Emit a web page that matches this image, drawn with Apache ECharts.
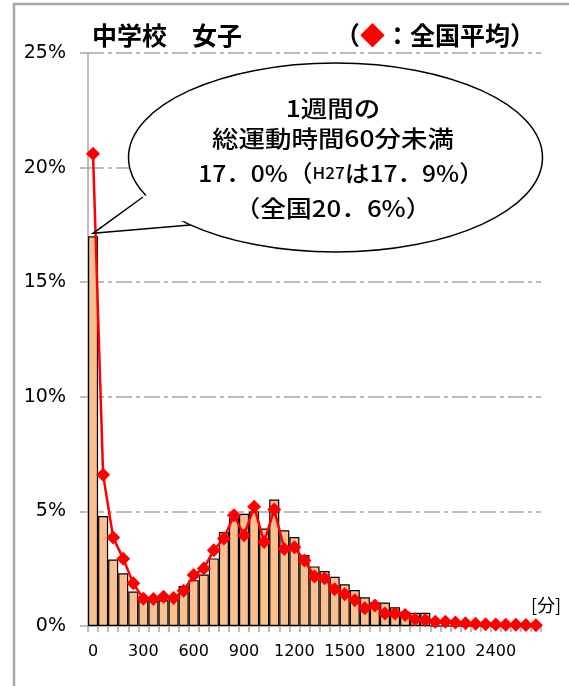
<!DOCTYPE html>
<html><head><meta charset="utf-8">
<script src="https://cdn.jsdelivr.net/npm/echarts@6/dist/echarts.min.js"></script>
<style>html,body{margin:0;padding:0;background:#fff}#c{width:569px;height:686px}</style>
</head><body><div id="c"></div>
<script>
// 1週間の総運動時間（分）: 60分刻みの階級
const categories = [0,60,120,180,240,300,360,420,480,540,600,660,720,780,840,900,960,1020,1080,1140,1200,1260,1320,1380,1440,1500,1560,1620,1680,1740,1800,1860,1920,1980,2040,2100,2160,2220,2280,2340,2400,2460,2520,2580,2640];
// 中学校 女子（本県）割合 %
const schoolShare = [17.0,4.8,2.9,2.3,1.5,1.15,1.1,1.12,1.18,1.75,2.0,2.25,2.95,4.1,4.7,4.9,5.0,4.25,5.52,4.18,3.88,3.1,2.6,2.4,2.15,1.82,1.57,1.25,1.03,1.02,0.82,0.62,0.58,0.58,0,0,0,0,0,0,0,0,0,0,0];
// 全国平均 %
const nationalShare = [20.6,6.6,3.86,2.93,1.86,1.19,1.18,1.28,1.22,1.54,2.22,2.51,3.31,3.82,4.83,3.96,5.2,3.67,5.08,3.36,3.44,2.86,2.16,2.08,1.6,1.38,1.12,0.77,0.89,0.55,0.55,0.48,0.29,0.26,0.19,0.19,0.15,0.12,0.1,0.08,0.07,0.05,0.05,0.04,0.03];
const yMax = 25, yStep = 5;

const JP = '"Noto Sans CJK JP", sans-serif';
const chart = echarts.init(document.getElementById('c'), null, {renderer:'canvas'});
chart.setOption({
  animation:false,
  backgroundColor:'#fff',
  title:[
    {text:'中学校　女子', left:87, top:18, textStyle:{fontFamily:JP, fontSize:25, fontWeight:'bold', color:'#000'}},
    {text:'（{r|◆}：全国平均）', left:330, top:18,
     textStyle:{fontFamily:JP, fontSize:25, fontWeight:'bold', color:'#000',
       rich:{r:{fontFamily:JP, fontSize:25, color:'#ff0000'}}}}
  ],
  grid:{left:88, right:28, top:53, bottom:60},
  xAxis:{type:'category', data:categories, boundaryGap:true,
    axisLine:{lineStyle:{color:'#a6a6a6', width:1.5}},
    axisTick:{show:true, interval:0, length:6, lineStyle:{color:'#a6a6a6', width:1.5}},
    axisLabel:{interval:4, margin:18, fontSize:16, fontFamily:'DejaVu Sans', color:'#000'},
    splitLine:{show:false}},
  yAxis:{type:'value', min:0, max:yMax, interval:yStep,
    axisLine:{show:true, lineStyle:{color:'#a6a6a6', width:1.5}},
    axisTick:{show:true, length:8, lineStyle:{color:'#a6a6a6', width:1.5}},
    axisLabel:{formatter:'{value}%', margin:22, fontSize:19, fontFamily:'DejaVu Sans', color:'#000'},
    splitLine:{show:true, lineStyle:{type:[16,4,4,4], color:'#a6a6a6', width:1.5}}},
  series:[
    {type:'bar', data:schoolShare, barWidth:'100%', barCategoryGap:'0%',
     itemStyle:{color:'#FAC090', borderColor:'#000', borderWidth:1.2}},
    {type:'line', data:nationalShare, symbol:'diamond', symbolSize:14, z:5,
     showSymbol:true, showAllSymbol:true,
     lineStyle:{color:'#ff0000', width:2.5}, itemStyle:{color:'#ff0000'}}
  ]
});

const tip = chart.convertToPixel({seriesIndex:0}, [0, schoolShare[0]]);
const cx = 335.5, cy = 157.5, rx = 207, ry = 94.5;
const b1 = [143,197], b2 = [190,225];
const b1i = [b1[0]+5, b1[1]-3], b2i = [b2[0]+2, b2[1]-5];
const tipPt = [tip[0], tip[1]-3];
function line(txt, x, y, sx, extra){
  return {type:'text', x:x, y:y, scaleX:sx, z:120,
    style:Object.assign({text:txt, align:'center', textAlign:'center', verticalAlign:'middle', textVerticalAlign:'middle',
      font:'500 23px "Noto Sans CJK JP"', fill:'#000'}, extra||{})};
}
chart.setOption({graphic:[
  {type:'rect', shape:{x:14, y:4, width:600, height:700}, z:1, silent:true,
   style:{fill:'none', stroke:'#a6a6a6', lineWidth:2.5}},
  {type:'ellipse', shape:{cx:cx, cy:cy, rx:rx, ry:ry}, z:100,
   style:{fill:'#fff', stroke:'#000', lineWidth:1.5}},
  {type:'polygon', shape:{points:[b1i, tipPt, b2i]}, z:101, style:{fill:'#fff', stroke:null}},
  {type:'polyline', shape:{points:[b1, tipPt, b2]}, z:102, style:{fill:null, stroke:'#000', lineWidth:1.5}},
  line('1週間の', 333, 108, 1.15),
  line('総運動時間60分未満', 333, 138, 1.15),
  line('17．0%（{s|H27}は17．9%）', 341, 173, 1.07, {rich:{s:{font:'500 16px "Noto Sans CJK JP"', fill:'#000'}}}),
  line('（全国20．6%）', 333, 208, 1.12),
  {type:'text', x:546, y:605, z:50,
   style:{text:'[分]', align:'center', textAlign:'center', verticalAlign:'middle', textVerticalAlign:'middle',
     font:'18px "Noto Sans CJK JP"', fill:'#000'}}
]});
</script></body></html>
